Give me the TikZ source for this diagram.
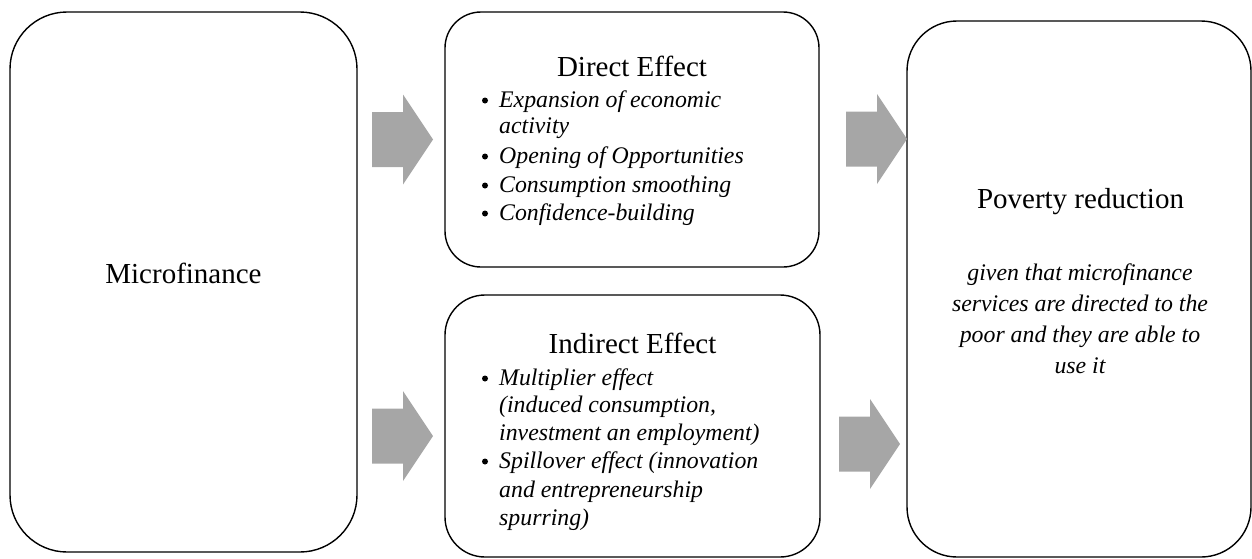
\documentclass[tikz,border=0pt]{standalone}
\usepackage{fontspec}
\setmainfont{Liberation Serif}
\definecolor{arrowgray}{RGB}{166,166,166}
\tikzset{
  pics/blockarrow/.style={code={
    \fill[arrowgray] (0,-27.5) -- (31,-27.5) -- (31,-45) -- (61,0)
      -- (31,45) -- (31,27.5) -- (0,27.5) -- cycle;}},
  box/.style={draw=black, line width=1.4pt, rounded corners=#1, inner sep=0pt},
  title/.style={anchor=base, inner sep=0pt, font=\fontsize{29}{34}\selectfont},
  item/.style={anchor=base west, inner sep=0pt, font=\fontsize{23.8}{28}\selectfont\itshape},
  note/.style={anchor=base, inner sep=0pt, font=\fontsize{23.8}{28}\selectfont\itshape},
  dot/.style={circle, fill=black, inner sep=0pt, minimum size=6pt},
}
\begin{document}
\begin{tikzpicture}[x=1pt,y=-1pt]
\useasboundingbox (0,0) rectangle (1252,558);

% rounded boxes
\node[box=57pt, minimum width=347pt, minimum height=540pt] (micro) at (183.5,282) {};
\node[box=36pt, minimum width=374pt, minimum height=255pt] (direct) at (632,139.5) {};
\node[box=40pt, minimum width=375pt, minimum height=262pt] (indirect) at (632.5,426) {};
\node[box=50pt, minimum width=344pt, minimum height=536pt] (poverty) at (1079,289) {};

% block arrows
\pic (a1) at (372,139.5) {blockarrow};
\pic (a2) at (372,436) {blockarrow};
\pic (a3) at (846,139) {blockarrow};
\pic (a4) at (839,444) {blockarrow};

% titles
\node[title] (microtxt) at (183.5,283) {Microfinance};
\node[title] (dtitle) at (632,76) {Direct Effect};
\node[title] (ititle) at (632.5,353) {Indirect Effect};
\node[title] (ptitle) at (1080.5,208) {Poverty reduction};

% direct effect list
\node[dot] (db1) at (485,100.5) {};
\node[dot] (db2) at (485,156.5) {};
\node[dot] (db3) at (485,185.5) {};
\node[dot] (db4) at (485,213.5) {};
\node[item] (d1) at (499,107) {Expansion of economic};
\node[item] (d1b) at (499,133) {activity};
\node[item] (d2) at (499,163) {Opening of Opportunities};
\node[item] (d3) at (499,192) {Consumption smoothing};
\node[item] (d4) at (499,220) {Confidence-building};

% indirect effect list
\node[dot] (ib1) at (485,378.5) {};
\node[dot] (ib2) at (485,461.5) {};
\node[item] (i1) at (499,385) {Multiplier effect};
\node[item] (i1b) at (499,412) {(induced consumption,};
\node[item] (i1c) at (499,440) {investment an employment)};
\node[item] (i2) at (499,468) {Spillover effect (innovation};
\node[item] (i2b) at (499,497) {and entrepreneurship};
\node[item] (i2c) at (499,525) {spurring)};

% condition under poverty reduction
\node[note] (p1) at (1080,280) {given that microfinance};
\node[note] (p2) at (1080,311) {services are directed to the};
\node[note] (p3) at (1080,342) {poor and they are able to};
\node[note] (p4) at (1080,373) {use it};
\end{tikzpicture}
\end{document}
